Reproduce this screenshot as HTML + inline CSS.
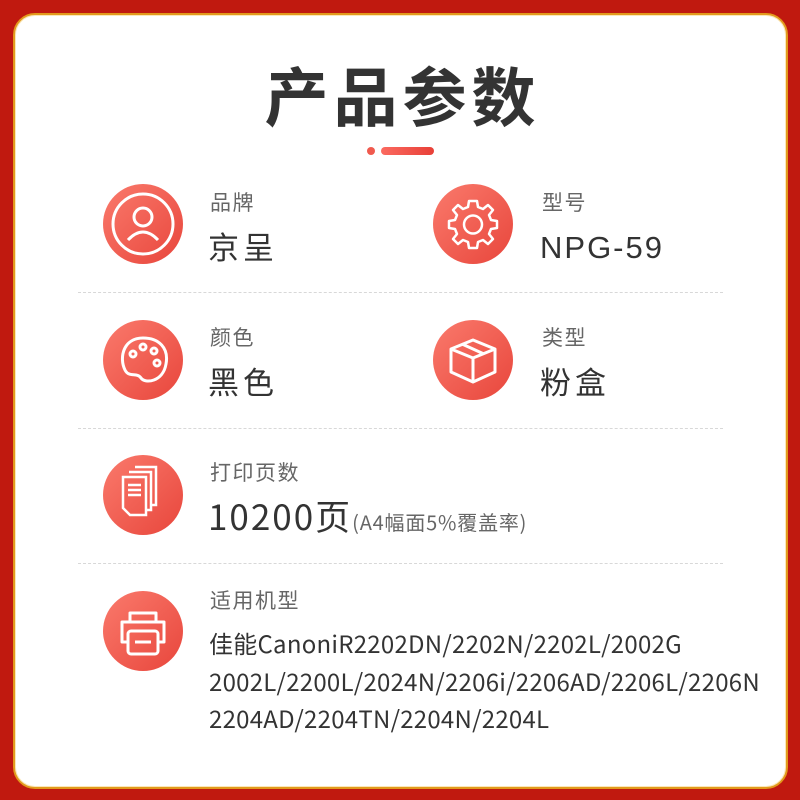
<!DOCTYPE html>
<html><head><meta charset="utf-8"><style>
*{margin:0;padding:0;box-sizing:border-box}
body{width:800px;height:800px;background:#c0190f;position:relative;overflow:hidden;font-family:"Liberation Sans","Noto Sans CJK SC",sans-serif}
.card{position:absolute;left:13px;top:13px;width:775px;height:776px;background:#fff;border-radius:22px;border:2px solid #e29a1c;box-shadow:inset 0 0 0 1px #fbe7b8}
.t{position:absolute;white-space:nowrap;font-family:"Noto Sans CJK SC",sans-serif}
.lab{font-size:21px;color:#666;letter-spacing:1.5px}
.val{font-size:31px;color:#333;letter-spacing:4px}
.c{position:absolute;width:80px;height:80px;border-radius:50%;background:linear-gradient(135deg,#fa7a6c,#e8463c)}
.c svg{position:absolute;left:0;top:0}
.d{position:absolute;left:78px;width:645px;border-top:1px dashed #d8d8d8}
.m{font-size:24px;color:#333;letter-spacing:0.25px}
</style></head><body>
<div class="card"></div>
<div class="t" style="left:0;width:800px;text-align:center;top:48px;font-size:64px;font-weight:bold;color:#333;letter-spacing:5px;padding-left:5px">产品参数</div>
<div style="position:absolute;left:367px;top:147px;width:8px;height:8px;border-radius:50%;background:#f05a4e"></div>
<div style="position:absolute;left:381px;top:147px;width:53px;height:8px;border-radius:4px;background:linear-gradient(90deg,#fb6a60,#e84038)"></div>

<div class="c" style="left:103px;top:184px"><svg width="80" height="80" fill="none" stroke="#fff" stroke-width="3"><circle cx="40" cy="40" r="30"/><circle cx="40" cy="33" r="9"/><path d="M25 56 Q40 40 55 56"/></svg></div>
<div class="t lab" style="left:210px;top:187px">品牌</div>
<div class="t val" style="left:208px;top:223px">京呈</div>

<div class="c" style="left:433px;top:184px"><svg width="80" height="80" fill="none" stroke="#fff" stroke-width="2.5" stroke-linejoin="round"><path d="M36 17 H44 L45 23 L50 25 L55 21 L60 26 L56 31 L58 36 L64 37 V44 L58 45 L56 50 L60 55 L55 60 L50 56 L45 58 L44 64 H36 L35 58 L30 56 L25 60 L20 55 L24 50 L22 45 L16 44 V37 L22 36 L24 31 L20 26 L25 21 L30 25 L35 23 Z"/><circle cx="40" cy="40.5" r="9"/></svg></div>
<div class="t lab" style="left:542px;top:187px">型号</div>
<div class="t val" style="left:540px;top:230px;font-family:'Liberation Sans',sans-serif;font-size:31px;letter-spacing:2px">NPG-59</div>

<div class="d" style="top:292px"></div>

<div class="c" style="left:103px;top:320px"><svg width="80" height="80" fill="none" stroke="#fff" stroke-width="3"><path d="M40 18 C20 18 16 38 22 50 C26 58 34 52 38 58 C42 64 60 62 63 44 C66 28 56 18 40 18Z"/><circle cx="30" cy="34" r="3"/><circle cx="40" cy="27" r="3"/><circle cx="51" cy="31" r="3"/><circle cx="54" cy="43" r="3"/></svg></div>
<div class="t lab" style="left:210px;top:322px">颜色</div>
<div class="t val" style="left:208px;top:358px">黑色</div>

<div class="c" style="left:433px;top:320px"><svg width="80" height="80" fill="none" stroke="#fff" stroke-width="3" stroke-linejoin="round"><path d="M40 20 L62 29 L62 52 L40 62 L18 52 L18 29 Z M18 29 L40 38 L62 29 M40 38 L40 62 M29 24 L51 34"/></svg></div>
<div class="t lab" style="left:542px;top:322px">类型</div>
<div class="t val" style="left:540px;top:358px">粉盒</div>

<div class="d" style="top:428px"></div>

<div class="c" style="left:103px;top:455px"><svg width="80" height="80" fill="none" stroke="#fff" stroke-width="2.5"><path d="M32 12 H53 V50 H48"/><path d="M26 17 H48 V55 H43"/><path d="M20 22 H43 V60 H27 L20 53 Z"/><path d="M25 30 H38 M25 35 H38 M25 40 H38"/></svg></div>
<div class="t lab" style="left:210px;top:457px">打印页数</div>
<div class="t val" style="left:208px;top:490px;font-size:35px;letter-spacing:2px">10200页<span style="font-size:20px;color:#666;letter-spacing:0.8px">(A4幅面5%覆盖率)</span></div>

<div class="d" style="top:563px"></div>

<div class="c" style="left:103px;top:591px"><svg width="80" height="80" fill="none" stroke="#fff" stroke-width="3" stroke-linejoin="round"><path d="M27 31 V22 H53 V31"/><path d="M25 51 H19 V31 H61 V51 H55"/><rect x="25" y="40" width="30" height="23" rx="3"/><path d="M32 51 H48"/></svg></div>
<div class="t lab" style="left:210px;top:585px">适用机型</div>
<div class="t m" style="left:209px;top:625px">佳能CanoniR2202DN/2202N/2202L/2002G</div>
<div class="t m" style="left:209px;top:663px">2002L/2200L/2024N/2206i/2206AD/2206L/2206N</div>
<div class="t m" style="left:209px;top:700px">2204AD/2204TN/2204N/2204L</div>
</body></html>
